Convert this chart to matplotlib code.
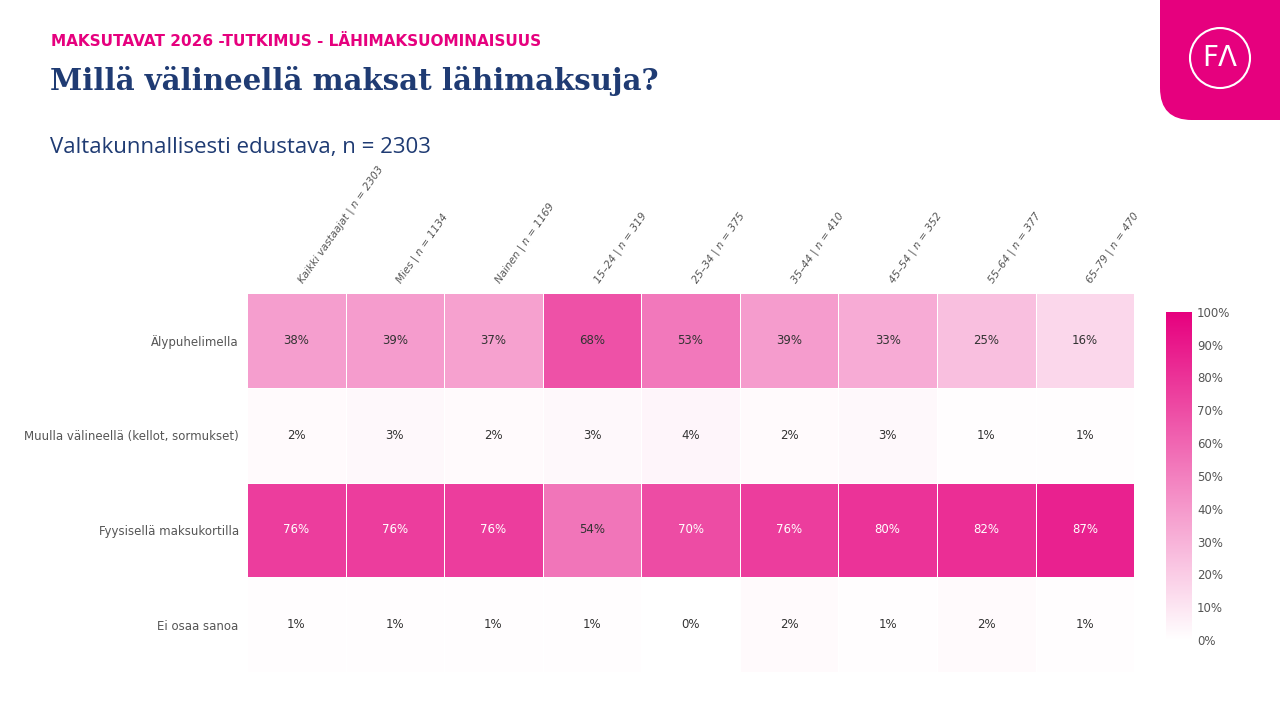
import numpy as np
import matplotlib.pyplot as plt
from matplotlib.colors import LinearSegmentedColormap
from matplotlib.patches import FancyBboxPatch, Circle

rows = ['Älypuhelimella', 'Muulla välineellä (kellot, sormukset)',
        'Fyysisellä maksukortilla', 'Ei osaa sanoa']
cols = ['Kaikki vastaajat | n = 2303', 'Mies | n = 1134', 'Nainen | n = 1169',
        '15–24 | n = 319', '25–34 | n = 375', '35–44 | n = 410',
        '45–54 | n = 352', '55–64 | n = 377', '65–79 | n = 470']
values = np.array([
    [38, 39, 37, 68, 53, 39, 33, 25, 16],
    [2, 3, 2, 3, 4, 2, 3, 1, 1],
    [76, 76, 76, 54, 70, 76, 80, 82, 87],
    [1, 1, 1, 1, 0, 2, 1, 2, 1],
])

pink = '#E6007E'
navy = '#1F3B73'
cmap = LinearSegmentedColormap.from_list('fa', ['#FFFFFF', pink])

fig = plt.figure(figsize=(12.8, 7.2), dpi=100)

fig.text(0.040, 0.943, 'MAKSUTAVAT 2026 -TUTKIMUS - LÄHIMAKSUOMINAISUUS',
         color=pink, fontsize=11, fontweight='bold', va='center')
fig.text(0.039, 0.888, 'Millä välineellä maksat lähimaksuja?', color=navy,
         fontsize=21, fontweight='bold', family='DejaVu Serif', va='center')
fig.text(0.039, 0.795, 'Valtakunnallisesti edustava, n = 2303', color=navy,
         fontsize=16, va='center', family='Open Sans')

# logo
lax = fig.add_axes([0.90625, 0.8333, 0.09375, 0.1667])
lax.set_xlim(0, 120)
lax.set_ylim(0, 120)
lax.axis('off')
lax.add_patch(FancyBboxPatch((0, 0), 160, 160, boxstyle='round,pad=0,rounding_size=32',
                             facecolor=pink, edgecolor='none', clip_on=True))
lax.add_patch(Circle((60, 62), 30, facecolor='none', edgecolor='white', lw=1.5))
lax.text(60, 62, 'FΛ', color='white', fontsize=20, ha='center', va='center')

ax = fig.add_axes([0.193, 0.0667, 0.693, 0.526])
mesh = ax.pcolormesh(values, cmap=cmap, vmin=0, vmax=100, edgecolors='white', linewidth=0.6)
ax.set_ylim(len(rows), 0)
for i in range(len(rows)):
    for j in range(len(cols)):
        ax.text(j + 0.5, i + 0.5, f'{values[i, j]}%', ha='center', va='center',
                fontsize=8.5, color='white' if values[i, j] >= 70 else '#333333')
ax.set_xticks(np.arange(len(cols)) + 0.5)
ax.set_xticklabels(cols, rotation=55, ha='left', fontsize=7.5, color='#555555',
                   style='italic')
ax.xaxis.tick_top()
ax.set_yticks(np.arange(len(rows)) + 0.5)
ax.set_yticklabels(rows, fontsize=8.5, color='#555555')
ax.tick_params(length=0, pad=6)
for s in ax.spines.values():
    s.set_visible(False)

cax = fig.add_axes([0.911, 0.111, 0.0203, 0.456])
cb = fig.colorbar(mesh, cax=cax)
cb.set_ticks(range(0, 101, 10))
cb.set_ticklabels([f'{t}%' for t in range(0, 101, 10)])
cb.outline.set_visible(False)
cax.tick_params(length=0, labelsize=8.5, labelcolor='#555555')

fig.savefig('out.png', dpi=100)
